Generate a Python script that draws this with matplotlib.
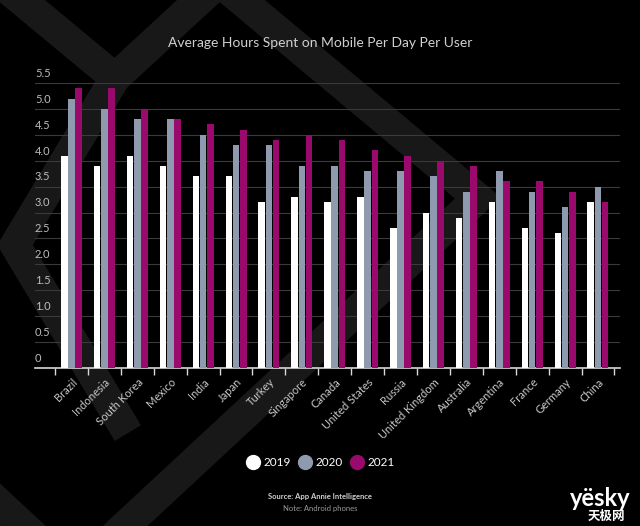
import numpy as np
import matplotlib
matplotlib.use("Agg")
import matplotlib.pyplot as plt
from matplotlib.lines import Line2D
import matplotlib.transforms as mtransforms

# data
countries = ["Brazil", "Indonesia", "South Korea", "Mexico", "India", "Japan",
             "Turkey", "Singapore", "Canada", "United States", "Russia",
             "United Kingdom", "Australia", "Argentina", "France", "Germany", "China"]
hours_2019 = [4.1, 3.9, 4.1, 3.9, 3.7, 3.7, 3.2, 3.3, 3.2, 3.3, 2.7, 3.0, 2.9, 3.2, 2.7, 2.6, 3.2]
hours_2020 = [5.2, 5.0, 4.8, 4.8, 4.5, 4.3, 4.3, 3.9, 3.9, 3.8, 3.8, 3.7, 3.4, 3.8, 3.4, 3.1, 3.5]
hours_2021 = [5.4, 5.4, 5.0, 4.8, 4.7, 4.6, 4.4, 4.5, 4.4, 4.2, 4.1, 4.0, 3.9, 3.6, 3.6, 3.4, 3.2]
years = ["2019", "2020", "2021"]
y_ticks = [0, 0.5, 1.0, 1.5, 2.0, 2.5, 3.0, 3.5, 4.0, 4.5, 5.0, 5.5]
y_labels = ["0", "0.5", "1.0", "1.5", "2.0", "2.5", "3.0", "3.5", "4.0", "4.5", "5.0", "5.5"]

colors = ["#ffffff", "#8e9aae", "#990a6c"]
W, H = 640, 526

fig = plt.figure(figsize=(W / 100, H / 100), dpi=100, facecolor="black")

# faint background stripes (decorative)
def stripe(points, lw=22):
    xs = [p[0] / W for p in points]
    ys = [1 - p[1] / H for p in points]
    fig.add_artist(Line2D(xs, ys, transform=fig.transFigure, color="#181818",
                          linewidth=lw, solid_joinstyle="miter", zorder=0))

stripe([(15, -5), (115, 78), (205, -5)])
stripe([(115, 78), (15, 245), (120, 420)])
stripe([(235, -5), (478, 198), (110, 540)])
stripe([(-10, 495), (60, 560)])

ax = fig.add_axes([35 / W, 1 - 368 / H, (620 - 35) / W, (368 - 83) / H])
ax.set_facecolor("none")

x = np.arange(len(countries))
width = 0.2
step = 0.22
for i, (vals, c) in enumerate(zip([hours_2019, hours_2020, hours_2021], colors)):
    ax.bar(x + (i - 1) * step, vals, width=width, color=c, zorder=3)

ax.set_xlim(-1.11, len(countries) - 0.33)
ax.set_ylim(0, 5.5)

# grid
for v in y_ticks[1:]:
    ax.axhline(v, color="#3a3a3a", linewidth=0.8, zorder=1)
ax.set_yticks([])

# y labels sit above the grid lines, left aligned
offset = mtransforms.offset_copy(ax.get_yaxis_transform(), fig=fig, x=0, y=3, units="points")
for v, lab in zip(y_ticks, y_labels):
    ax.text(0, v, lab, transform=offset, ha="left", va="bottom", fontsize=8,
            color="#bdbdbd", family="Lato")

for s in ["top", "right", "left"]:
    ax.spines[s].set_visible(False)
ax.spines["bottom"].set_color("#d8d8d8")
ax.spines["bottom"].set_linewidth(1.2)

ax.set_xticks(x)
ax.set_xticklabels(countries, rotation=45, ha="right", rotation_mode="anchor",
                   fontsize=8, color="#c8c8c8", family="Lato")
ax.tick_params(axis="x", which="major", length=0, pad=6)
ax.set_xticks(np.arange(-0.5, len(countries)), minor=True)
ax.tick_params(axis="x", which="minor", length=5, width=1, color="#d8d8d8", direction="out")

# title
fig.text(0.5, 1 - 43 / H, "Average Hours Spent on Mobile Per Day Per User",
         ha="center", va="center", fontsize=10, color="#d0d0d0", family="Lato")

# legend
handles = [Line2D([], [], marker="o", linestyle="none", markersize=10,
                  markerfacecolor=c, markeredgecolor=c) for c in colors]
leg = fig.legend(handles, years, loc="center", bbox_to_anchor=(0.5, 1 - 463 / H),
                 ncol=3, frameon=False, handletextpad=0.3, handlelength=1.2,
                 columnspacing=0.6, prop={"family": "Lato", "size": 8.5})
for t in leg.get_texts():
    t.set_color("white")

fig.text(0.5, 1 - 497 / H, "Source: App Annie Intelligence", ha="center", va="center",
         fontsize=5.5, fontweight="bold", color="#d0d0d0", family="Lato")
fig.text(0.5, 1 - 509 / H, "Note: Android phones", ha="center", va="center",
         fontsize=5.5, color="#9a9a9a", family="Lato")

# watermark
fig.text(600 / W, 1 - 499 / H, "yësky", ha="center", va="center", fontsize=17,
         fontweight="bold", color="white", family=["Lato", "DejaVu Sans"])
fig.text(606 / W, 1 - 516 / H, "天极网", ha="center", va="center", fontsize=9,
         fontweight="bold", color="white", family=["Noto Sans CJK SC", "DejaVu Sans"])

fig.savefig("out.png", dpi=100, facecolor="black")
